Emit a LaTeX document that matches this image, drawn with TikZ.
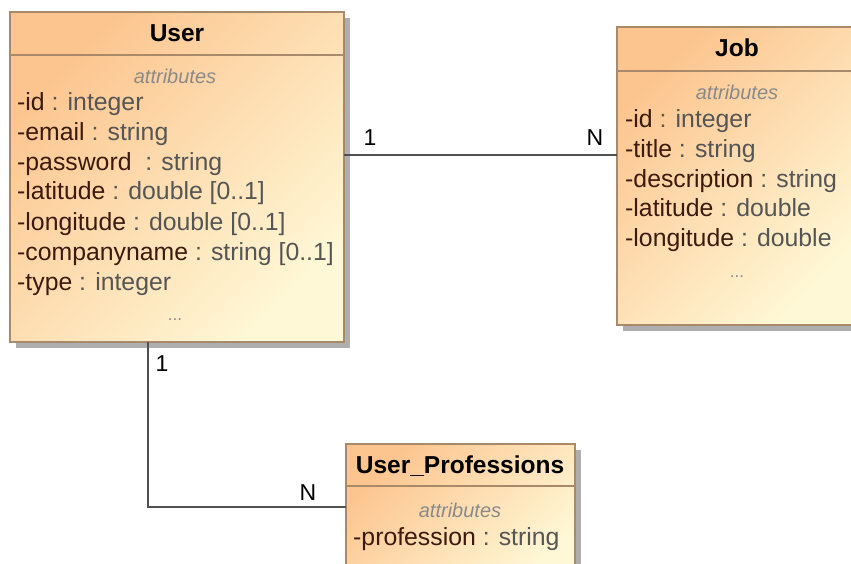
\documentclass[tikz,border=0pt]{standalone}
\usepackage{fontspec}
\setmainfont{Liberation Sans}
\usetikzlibrary{calc,backgrounds}
\definecolor{boxtop}{HTML}{FCC48E}
\definecolor{boxbot}{HTML}{FFF8D6}
\definecolor{boxline}{HTML}{A8896A}
\definecolor{shadowcol}{HTML}{AEAEAE}
\definecolor{namecol}{HTML}{3C1A0E}
\definecolor{typecol}{HTML}{555555}
\definecolor{stereocol}{HTML}{8A8A8A}
\definecolor{linkcol}{HTML}{505050}
\tikzset{
  umlbox/.style={draw=boxline, line width=1.6pt, top color=boxtop, bottom color=boxbot,
    shading angle=45, inner sep=0pt, outer sep=0pt, anchor=north west},
  divider/.style={draw=boxline, line width=1.4pt},
  boxshadow/.style={fill=shadowcol},
  title/.style={font=\fontsize{24.5}{28}\selectfont\bfseries, anchor=base, inner sep=0pt},
  stereo/.style={font=\fontsize{20}{24}\selectfont\itshape, text=stereocol, anchor=base, inner sep=0pt},
  attr/.style={font=\fontsize{24.8}{28}\selectfont, anchor=base west, inner sep=0pt},
  dots/.style={font=\fontsize{17}{20}\selectfont, text=stereocol, anchor=base, inner sep=0pt},
  link/.style={draw=linkcol, line width=1.8pt},
  mult/.style={font=\fontsize{23}{27}\selectfont, anchor=base, inner sep=0pt},
}
\newcommand{\attrline}[2]{\textcolor{namecol}{#1} \textcolor{typecol}{: #2}}
\begin{document}
\begin{tikzpicture}[x=1pt,y=-1pt]
\useasboundingbox (0,0) rectangle (851,564);

% ---- User class
\node[umlbox, minimum width=334pt, minimum height=330pt] (user) at (10,12) {};
\draw[divider] ($(user.north west)+(0,43)$) -- ($(user.north east)+(0,43)$);
\node[title] (usertitle) at (177,42) {User};
\node[stereo] (userstereo) at (175,84) {attributes};
\node[attr] (ua1) at (17,111) {\attrline{-id}{integer}};
\node[attr] (ua2) at (17,141) {\attrline{-email}{string}};
\node[attr] (ua3) at (17,171) {\attrline{-password\ }{string}};
\node[attr] (ua4) at (17,200) {\attrline{-latitude}{double [0..1]}};
\node[attr] (ua5) at (17,230) {\attrline{-longitude}{double [0..1]}};
\node[attr] (ua6) at (17,260) {\attrline{-companyname}{string [0..1]}};
\node[attr] (ua7) at (17,290) {\attrline{-type}{integer}};
\node[dots] (userdots) at (175,320) {...};

% ---- Job class
\node[umlbox, minimum width=240pt, minimum height=298pt] (job) at (617,27) {};
\draw[divider] ($(job.north west)+(0,44)$) -- ($(job.north east)+(0,44)$);
\node[title] (jobtitle) at (737,57) {Job};
\node[stereo] (jobstereo) at (737,100) {attributes};
\node[attr] (ja1) at (625,128) {\attrline{-id}{integer}};
\node[attr] (ja2) at (625,158) {\attrline{-title}{string}};
\node[attr] (ja3) at (625,188) {\attrline{-description}{string}};
\node[attr] (ja4) at (625,217) {\attrline{-latitude}{double}};
\node[attr] (ja5) at (625,247) {\attrline{-longitude}{double}};
\node[dots] (jobdots) at (737,277) {...};

% ---- User_Professions class
\node[umlbox, minimum width=229pt, minimum height=140pt] (prof) at (346,444) {};
\draw[divider] ($(prof.north west)+(0,42)$) -- ($(prof.north east)+(0,42)$);
\node[title] (proftitle) at (460,473) {User\_Professions};
\node[stereo] (profstereo) at (460,517) {attributes};
\node[attr] (pa1) at (353,545) {\attrline{-profession}{string}};

% ---- page and drop shadows
\begin{scope}[on background layer]
\fill[white] (0,0) rectangle (851,564);
\fill[boxshadow] ($(user.north west)+(6,6)$) rectangle ($(user.south east)+(6,6)$);
\fill[boxshadow] ($(job.north west)+(6,6)$) rectangle ($(job.south east)+(6,6)$);
\fill[boxshadow] ($(prof.north west)+(6,6)$) rectangle ($(prof.south east)+(6,6)$);
\end{scope}

% ---- associations
\coordinate (uj) at (0,155);
\draw[link] (user.east |- uj) -- (job.west |- uj);
\node[mult] (m1) at (370,146) {1};
\node[mult] (m2) at (595,146) {N};

\coordinate (up) at (148,507);
\draw[link] (user.south -| up) -- (up) -- (prof.west |- up);
\node[mult] (m3) at (162,371) {1};
\node[mult] (m4) at (308,500) {N};
\end{tikzpicture}
\end{document}
